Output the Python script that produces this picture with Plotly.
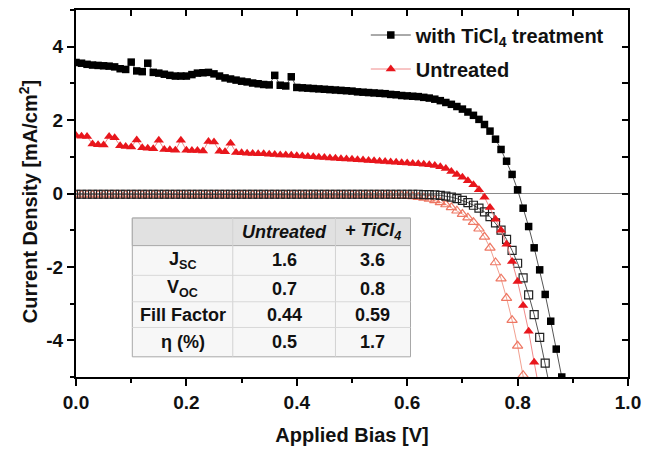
import plotly.graph_objects as go

FONT = "Liberation Sans, Arial, sans-serif"

# Applied bias grid (V)
voltage = [0.00, 0.01, 0.02, 0.03, 0.04, 0.05, 0.06, 0.07, 0.08, 0.09,
           0.10, 0.11, 0.12, 0.13, 0.14, 0.15, 0.16, 0.17, 0.18, 0.19,
           0.20, 0.21, 0.22, 0.23, 0.24, 0.25, 0.26, 0.27, 0.28, 0.29,
           0.30, 0.31, 0.32, 0.33, 0.34, 0.35, 0.36, 0.37, 0.38, 0.39,
           0.40, 0.41, 0.42, 0.43, 0.44, 0.45, 0.46, 0.47, 0.48, 0.49,
           0.50, 0.51, 0.52, 0.53, 0.54, 0.55, 0.56, 0.57, 0.58, 0.59,
           0.60, 0.61, 0.62, 0.63, 0.64, 0.65, 0.66, 0.67, 0.68, 0.69,
           0.70, 0.71, 0.72, 0.73, 0.74, 0.75, 0.76, 0.77, 0.78, 0.79,
           0.80, 0.81, 0.82, 0.83, 0.84, 0.85, 0.86, 0.87, 0.88]

# Illuminated, with TiCl4 treatment (mA/cm2)
j_ticl4_light = [3.57, 3.55, 3.52, 3.50, 3.49, 3.48, 3.47, 3.45, 3.40, 3.38,
                 3.58, 3.34, 3.32, 3.55, 3.30, 3.28, 3.25, 3.22, 3.20, 3.20,
                 3.20, 3.24, 3.28, 3.29, 3.30, 3.26, 3.20, 3.15, 3.12, 3.09,
                 3.06, 3.04, 3.01, 2.99, 2.97, 2.96, 3.22, 2.95, 2.93, 3.18,
                 2.89, 2.88, 2.87, 2.86, 2.85, 2.84, 2.83, 2.82, 2.81, 2.80,
                 2.79, 2.77, 2.76, 2.75, 2.74, 2.73, 2.72, 2.70, 2.69, 2.67,
                 2.66, 2.65, 2.64, 2.62, 2.60, 2.57, 2.53, 2.48, 2.43, 2.37,
                 2.30, 2.22, 2.13, 2.02, 1.88, 1.70, 1.48, 1.20, 0.88, 0.52,
                 0.10, -0.40, -0.90, -1.48, -2.08, -2.75, -3.48, -4.24, -5.00]

# Illuminated, untreated
j_untreated_light = [1.58, 1.56, 1.55, 1.35, 1.33, 1.32, 1.55, 1.52, 1.30, 1.28,
                     1.27, 1.46, 1.25, 1.23, 1.22, 1.45, 1.20, 1.19, 1.18, 1.45,
                     1.18, 1.17, 1.17, 1.16, 1.42, 1.40, 1.15, 1.14, 1.37, 1.12,
                     1.11, 1.10, 1.09, 1.08, 1.08, 1.07, 1.06, 1.05, 1.05, 1.04,
                     1.03, 1.02, 1.01, 1.00, 0.99, 0.98, 0.97, 0.96, 0.95, 0.94,
                     0.93, 0.92, 0.91, 0.90, 0.89, 0.88, 0.87, 0.86, 0.85, 0.84,
                     0.83, 0.82, 0.81, 0.80, 0.78, 0.76, 0.73, 0.68, 0.60, 0.52,
                     0.44, 0.35, 0.24, 0.10, -0.10, -0.38, -0.70, -1.00, -1.38, -1.85,
                     -2.40, -3.05, -3.75, -4.60, -5.40]

# Dark, with TiCl4 treatment
j_ticl4_dark = [-0.02, -0.02, -0.02, -0.02, -0.02, -0.02, -0.02, -0.02, -0.02, -0.02,
                -0.02, -0.02, -0.02, -0.02, -0.02, -0.02, -0.02, -0.02, -0.02, -0.02,
                -0.02, -0.02, -0.02, -0.02, -0.02, -0.02, -0.02, -0.02, -0.02, -0.02,
                -0.02, -0.02, -0.02, -0.02, -0.02, -0.02, -0.02, -0.02, -0.02, -0.02,
                -0.02, -0.02, -0.02, -0.02, -0.02, -0.02, -0.02, -0.02, -0.02, -0.02,
                -0.02, -0.02, -0.02, -0.02, -0.02, -0.02, -0.02, -0.02, -0.02, -0.02,
                -0.02, -0.02, -0.02, -0.03, -0.03, -0.04, -0.05, -0.07, -0.10, -0.14,
                -0.19, -0.25, -0.32, -0.40, -0.50, -0.63, -0.80, -1.00, -1.25, -1.55,
                -1.90, -2.30, -2.76, -3.30, -3.92, -4.62, -5.40]

# Dark, untreated
j_untreated_dark = [-0.04, -0.04, -0.04, -0.04, -0.04, -0.04, -0.04, -0.04, -0.04, -0.04,
                    -0.04, -0.04, -0.04, -0.04, -0.04, -0.04, -0.04, -0.04, -0.04, -0.04,
                    -0.04, -0.04, -0.04, -0.04, -0.04, -0.04, -0.04, -0.04, -0.04, -0.04,
                    -0.04, -0.04, -0.04, -0.04, -0.04, -0.04, -0.04, -0.04, -0.04, -0.04,
                    -0.04, -0.04, -0.04, -0.04, -0.04, -0.04, -0.04, -0.04, -0.04, -0.04,
                    -0.04, -0.04, -0.04, -0.04, -0.04, -0.04, -0.04, -0.05, -0.05, -0.06,
                    -0.07, -0.08, -0.10, -0.12, -0.15, -0.19, -0.24, -0.30, -0.38, -0.47,
                    -0.56, -0.66, -0.78, -0.96, -1.18, -1.48, -1.88, -2.32, -2.85, -3.45,
                    -4.15, -4.95, -5.80]

# Axis ticks
x_ticks = [0.0, 0.2, 0.4, 0.6, 0.8, 1.0]
x_ticktext = ["0.0", "0.2", "0.4", "0.6", "0.8", "1.0"]
y_ticks = [-4, -2, 0, 2, 4]
y_ticktext = ["-4", "-2", "0", "2", "4"]

# Inset table
table_header = ["", "<i>Untreated</i>", "<i>+ TiCl<sub>4</sub></i>"]
table_rows = ["J<sub>SC</sub>", "V<sub>OC</sub>", "Fill Factor", "η (%)"]
table_untreated = ["1.6", "0.7", "0.44", "0.5"]
table_ticl4 = ["3.6", "0.8", "0.59", "1.7"]

fig = go.Figure()

fig.add_trace(go.Scatter(
    x=voltage[:len(j_untreated_dark)], y=j_untreated_dark, mode="lines+markers",
    line=dict(color="#f2a090", width=1),
    marker=dict(symbol="triangle-up-open", size=9, color="#ee7763", line=dict(width=1.2)),
    showlegend=False, name="Untreated (dark)"))
fig.add_trace(go.Scatter(
    x=voltage[:len(j_ticl4_dark)], y=j_ticl4_dark, mode="lines+markers",
    line=dict(color="#555555", width=1),
    marker=dict(symbol="square-open", size=8, color="#222222", line=dict(width=1.2)),
    showlegend=False, name="TiCl4 (dark)"))
fig.add_trace(go.Scatter(
    x=voltage[:len(j_untreated_light)], y=j_untreated_light, mode="lines+markers",
    line=dict(color="#f08a8a", width=1),
    marker=dict(symbol="triangle-up", size=9, color="#e8161c"),
    name="Untreated", legendgroup="b", legendrank=2))
fig.add_trace(go.Scatter(
    x=voltage[:len(j_ticl4_light)], y=j_ticl4_light, mode="lines+markers",
    line=dict(color="#555555", width=1),
    marker=dict(symbol="square", size=7.5, color="#000000"),
    name="with TiCl<sub>4</sub> treatment", legendgroup="a", legendrank=1))
# invisible trace to anchor the mirrored (top/right) axes
fig.add_trace(go.Scatter(x=voltage[:1], y=j_ticl4_light[:1], xaxis="x2", yaxis="y2",
                         mode="markers", marker=dict(opacity=0), showlegend=False,
                         hoverinfo="skip"))

# ---- table shapes / text ----
tx = [0.102, 0.284, 0.470, 0.606]
ty = [-0.67, -1.42, -2.23, -2.95, -3.65, -4.45]
shapes = []
shapes.append(dict(type="rect", xref="x", yref="y", x0=tx[0], x1=tx[3], y0=ty[5], y1=ty[0],
                   fillcolor="#f7f7f7", line=dict(color="#a8a8a8", width=1), layer="above"))
shapes.append(dict(type="rect", xref="x", yref="y", x0=tx[0], x1=tx[3], y0=ty[1], y1=ty[0],
                   fillcolor="#e1e1e1", line=dict(color="#a8a8a8", width=1), layer="above"))
for xv in tx[1:3]:
    shapes.append(dict(type="line", xref="x", yref="y", x0=xv, x1=xv, y0=ty[5], y1=ty[0],
                       line=dict(color="#d2d2d2", width=1), layer="above"))
for yv in ty[2:5]:
    shapes.append(dict(type="line", xref="x", yref="y", x0=tx[0], x1=tx[3], y0=yv, y1=yv,
                       line=dict(color="#d8d8d8", width=1), layer="above"))

annotations = []
cx = [(tx[i] + tx[i + 1]) / 2 for i in range(3)]
cy = [(ty[i] + ty[i + 1]) / 2 for i in range(5)]
tfont = dict(family=FONT, size=18, color="#111111", weight="bold")
for j, h in enumerate(table_header):
    if h:
        annotations.append(dict(x=cx[j], y=cy[0], xref="x", yref="y", text=h, showarrow=False,
                                font=tfont, xanchor="center", yanchor="middle"))
for i in range(len(table_rows)):
    for j, col in enumerate([table_rows, table_untreated, table_ticl4]):
        annotations.append(dict(x=cx[j], y=cy[i + 1], xref="x", yref="y", text=col[i],
                                showarrow=False, font=tfont, xanchor="center", yanchor="middle"))

# y-axis title as annotation (placed like the reference)
annotations.append(dict(x=-0.087, y=0.479, xref="paper", yref="paper",
                        text="Current Density [mA/cm<sup>2</sup>]", textangle=-90,
                        showarrow=False, xanchor="center", yanchor="middle",
                        font=dict(family=FONT, size=20, color="#111111", weight="bold")))

fig.update_layout(
    width=651, height=453,
    margin=dict(l=76, r=16, t=10, b=70),
    paper_bgcolor="white", plot_bgcolor="white",
    font=dict(family=FONT, size=19, color="#111111", weight="bold"),
    shapes=shapes, annotations=annotations,
    legend=dict(x=0.525, y=0.985, xanchor="left", yanchor="top", bgcolor="rgba(0,0,0,0)",
                font=dict(family=FONT, size=20, color="#111111", weight="bold"),
                traceorder="grouped", tracegroupgap=5, itemwidth=40),
    xaxis=dict(range=[0, 1], tickvals=x_ticks, ticktext=x_ticktext,
               ticks="outside", ticklen=7, tickwidth=2, tickcolor="black",
               minor=dict(dtick=0.1, tick0=0, ticks="outside", ticklen=4, tickwidth=2, tickcolor="black"),
               showline=True, linewidth=2, linecolor="black", showgrid=False, zeroline=False,
               title=dict(text="Applied Bias [V]", font=dict(size=20), standoff=16),
               tickfont=dict(size=19)),
    xaxis2=dict(range=[0, 1], overlaying="x", side="top", anchor="y", dtick=0.1, tick0=0,
                ticks="inside", ticklen=6, tickwidth=2, tickcolor="black", showticklabels=False,
                showline=True, linewidth=2, linecolor="black", showgrid=False, zeroline=False),
    yaxis=dict(range=[-5, 5], tickvals=y_ticks, ticktext=y_ticktext,
               ticks="outside", ticklen=7, tickwidth=2, tickcolor="black",
               minor=dict(dtick=1, tick0=-5, ticks="outside", ticklen=4, tickwidth=2, tickcolor="black"),
               showline=True, linewidth=2, linecolor="black", showgrid=False,
               zeroline=True, zerolinecolor="#8a8a8a", zerolinewidth=1,
               tickfont=dict(size=19)),
    yaxis2=dict(range=[-5, 5], overlaying="y", side="right", anchor="x", dtick=1, tick0=-5,
                ticks="inside", ticklen=6, tickwidth=2, tickcolor="black", showticklabels=False,
                showline=True, linewidth=2, linecolor="black", showgrid=False, zeroline=False),
)

fig.write_html("out.html")
